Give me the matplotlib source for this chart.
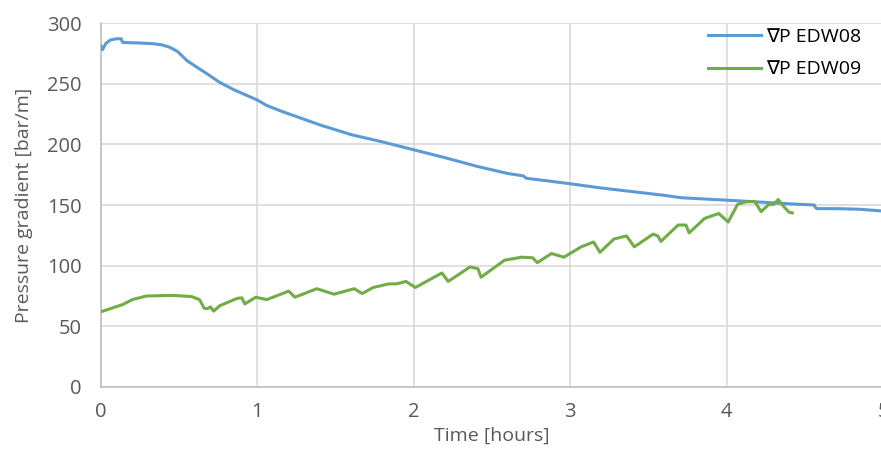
import matplotlib
matplotlib.use("Agg")
import matplotlib.pyplot as plt

plt.rcParams['font.family'] = ['Open Sans', 'DejaVu Sans']

# EDW08 pressure gradient, time in hours
t_edw08 = [0.0, 0.01, 0.03, 0.06, 0.10, 0.13, 0.135, 0.14, 0.25, 0.33, 0.39, 0.44,
           0.49, 0.55, 0.62, 0.68, 0.76, 0.85, 1.0, 1.06, 1.17, 1.28, 1.4, 1.6, 1.8,
           2.0, 2.2, 2.4, 2.6, 2.70, 2.72, 2.85, 3.0, 3.2, 3.4, 3.6, 3.71, 3.85,
           4.0, 4.2, 4.4, 4.56, 4.57, 4.58, 4.7, 4.85, 5.0]
p_edw08 = [281, 278, 283, 286, 287, 287, 285, 284, 283.5, 283, 282, 280,
           276.5, 269, 263, 258, 251, 245, 236.5, 232, 226.5, 221.5, 216, 208, 202,
           195.5, 189, 182, 176, 174, 172, 170, 167.5, 164, 161, 158, 156, 155,
           154, 152.5, 151, 150, 147.5, 147, 147, 146.5, 145]

# EDW09 pressure gradient
t_edw09 = [0.0, 0.07, 0.14, 0.20, 0.29, 0.46, 0.58, 0.63, 0.66, 0.68, 0.70, 0.72,
           0.76, 0.87, 0.90, 0.92, 0.99, 1.06, 1.2, 1.24, 1.38, 1.49, 1.62, 1.67,
           1.74, 1.84, 1.89, 1.95, 2.01, 2.18, 2.22, 2.36, 2.41, 2.43, 2.58, 2.69,
           2.76, 2.79, 2.88, 2.96, 3.07, 3.15, 3.19, 3.28, 3.36, 3.41, 3.53, 3.56,
           3.58, 3.69, 3.74, 3.76, 3.86, 3.95, 4.01, 4.07, 4.12, 4.18, 4.22, 4.27,
           4.30, 4.33, 4.37, 4.40, 4.42]
p_edw09 = [62, 65, 68, 72, 75, 75.5, 74.5, 72, 65, 64.5, 66, 62.5,
           67, 73, 73.5, 68.5, 74, 72, 79, 74, 81, 76.5, 81, 77,
           82, 85, 85, 87, 82, 94, 87, 99, 97.5, 90.5, 104.5, 107,
           106.5, 102.5, 110, 107, 115.5, 119.5, 111, 122, 124.5, 115.5, 126, 124.5,
           120, 133.5, 133.5, 127, 139, 143, 136, 150.5, 152.5, 153, 144.5, 150.5,
           150.5, 154.5, 148, 144, 143.5]

x_ticks = [0, 1, 2, 3, 4, 5]
y_ticks = [0, 50, 100, 150, 200, 250, 300]

fig = plt.figure(figsize=(8.81, 4.54), dpi=100)
ax = fig.add_axes([0.1146, 0.1476, 0.8877, 0.8017])

ax.plot(t_edw08, p_edw08, color='#5B9BD5', lw=2.2, label='∇P EDW08', zorder=3)
ax.plot(t_edw09, p_edw09, color='#70AD47', lw=2.2, label='∇P EDW09', zorder=3)

ax.set_xlim(0, 5)
ax.set_ylim(0, 300)
ax.set_xticks(x_ticks)
ax.set_yticks(y_ticks)
ax.grid(True, color='#D9D9D9', lw=1.2)
ax.set_axisbelow(True)

for s in ['top', 'right']:
    ax.spines[s].set_visible(False)
for s in ['left', 'bottom']:
    ax.spines[s].set_color('#BFBFBF')
    ax.spines[s].set_linewidth(1.2)

ax.tick_params(length=0, labelsize=14.5, colors='#595959', pad=11)
ax.tick_params(axis='y', pad=14)
ax.set_xlabel('Time [hours]', fontsize=14, color='#595959', labelpad=3)
ax.set_ylabel('Pressure gradient [bar/m]', fontsize=14, color='#595959', labelpad=10)

leg = ax.legend(loc='upper right', bbox_to_anchor=(0.995, 1.035), frameon=False,
                fontsize=14, handlelength=2.7, labelspacing=0.75, handletextpad=0.3)
for txt in leg.get_texts():
    txt.set_color('#000000')

fig.savefig('out.png', dpi=100)
